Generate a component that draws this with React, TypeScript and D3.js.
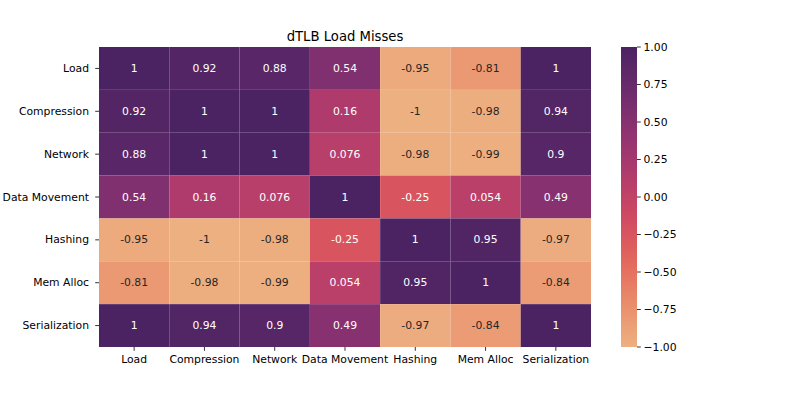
import React from 'react';
import * as d3 from 'd3';

const labels = ['Load', 'Compression', 'Network', 'Data Movement', 'Hashing', 'Mem Alloc', 'Serialization'];
const rowLoad = [1, 0.92, 0.88, 0.54, -0.95, -0.81, 1];
const rowCompression = [0.92, 1, 1, 0.16, -1, -0.98, 0.94];
const rowNetwork = [0.88, 1, 1, 0.076, -0.98, -0.99, 0.9];
const rowDataMovement = [0.54, 0.16, 0.076, 1, -0.25, 0.054, 0.49];
const rowHashing = [-0.95, -1, -0.98, -0.25, 1, 0.95, -0.97];
const rowMemAlloc = [-0.81, -0.98, -0.99, 0.054, 0.95, 1, -0.84];
const rowSerialization = [1, 0.94, 0.9, 0.49, -0.97, -0.84, 1];
const cbTicks = [-1, -0.75, -0.5, -0.25, 0, 0.25, 0.5, 0.75, 1];

const matrix = [rowLoad, rowCompression, rowNetwork, rowDataMovement, rowHashing, rowMemAlloc, rowSerialization];

// seaborn "flare" approximated by its sampled palette
const flareStops = ['#edb081', '#e98d6b', '#e3685c', '#d14a61', '#b13c6c', '#8f3371', '#6c2b6d', '#4b2362'];
const flare = d3.scaleLinear<string>()
  .domain(flareStops.map((_, i) => -1 + (2 * i) / (flareStops.length - 1)))
  .range(flareStops)
  .interpolate(d3.interpolateRgb)
  .clamp(true);

const W = 793;
const H = 397;
const left = 99, right = 591, top = 47, bottom = 347;
const cbX = 621, cbW = 16;
const font = 'DejaVu Sans, sans-serif';

function luminance(c: string) {
  const rgb = d3.rgb(c);
  const lin = (v: number) => {
    const s = v / 255;
    return s <= 0.03928 ? s / 12.92 : Math.pow((s + 0.055) / 1.055, 2.4);
  };
  return 0.2126 * lin(rgb.r) + 0.7152 * lin(rgb.g) + 0.0722 * lin(rgb.b);
}

function fmt(v: number) {
  // matplotlib-ish ".2g"
  const s = d3.format('.2~g')(v);
  return s.replace('−', '-');
}

export default function App() {
  const x = d3.scaleBand<string>().domain(labels).range([left, right]);
  const y = d3.scaleBand<string>().domain(labels).range([top, bottom]);
  const cbY = d3.scaleLinear().domain([-1, 1]).range([bottom, top]);
  const gradStops = d3.range(0, 1.0001, 0.05);

  return (
    <svg width={W} height={H} style={{ display: 'block', position: 'absolute', left: 0, top: 0 }} fontFamily={font}>
      <defs>
        <linearGradient id="cb" x1="0" y1="1" x2="0" y2="0">
          {gradStops.map((t) => (
            <stop key={t} offset={t} stopColor={flare(-1 + 2 * t)} />
          ))}
        </linearGradient>
      </defs>
      <rect width={W} height={H} fill="#fff" />
      {matrix.map((row, i) =>
        row.map((v, j) => {
          const c = flare(v);
          return (
            <g key={`${i}-${j}`}>
              <rect x={x(labels[j])} y={y(labels[i])} width={x.bandwidth()} height={y.bandwidth()} fill={c} />
              <text
                x={(x(labels[j]) as number) + x.bandwidth() / 2}
                y={(y(labels[i]) as number) + y.bandwidth() / 2}
                textAnchor="middle"
                dominantBaseline="central"
                fontSize={10.8}
                fill={luminance(c) > 0.408 ? '#262626' : '#fff'}
              >
                {fmt(v)}
              </text>
            </g>
          );
        })
      )}
      {/* title */}
      <text x={(left + right) / 2} y={41} textAnchor="middle" fontSize={13.2} fill="#000">dTLB Load Misses</text>
      {/* y axis */}
      {labels.map((l) => {
        const cy = (y(l) as number) + y.bandwidth() / 2;
        return (
          <g key={`y-${l}`}>
            <line x1={left - 3.8} x2={left} y1={cy} y2={cy} stroke="#000" strokeWidth={0.8} />
            <text x={left - 10} y={cy} textAnchor="end" dominantBaseline="central" fontSize={10.8}>{l}</text>
          </g>
        );
      })}
      {/* x axis */}
      {labels.map((l) => {
        const cx = (x(l) as number) + x.bandwidth() / 2;
        return (
          <g key={`x-${l}`}>
            <line x1={cx} x2={cx} y1={bottom} y2={bottom + 3.8} stroke="#000" strokeWidth={0.8} />
            <text x={cx} y={bottom + 16} textAnchor="middle" fontSize={10.8}>{l}</text>
          </g>
        );
      })}
      {/* colorbar */}
      <rect x={cbX} y={top} width={cbW} height={bottom - top} fill="url(#cb)" />
      {cbTicks.map((t) => (
        <g key={`cb-${t}`}>
          <line x1={cbX + cbW} x2={cbX + cbW + 3.8} y1={cbY(t)} y2={cbY(t)} stroke="#000" strokeWidth={0.8} />
          <text x={cbX + cbW + 6.5} y={cbY(t)} dominantBaseline="central" fontSize={10.8}>
            {(t < 0 ? '\u2212' : '') + Math.abs(t).toFixed(2)}
          </text>
        </g>
      ))}
    </svg>
  );
}
